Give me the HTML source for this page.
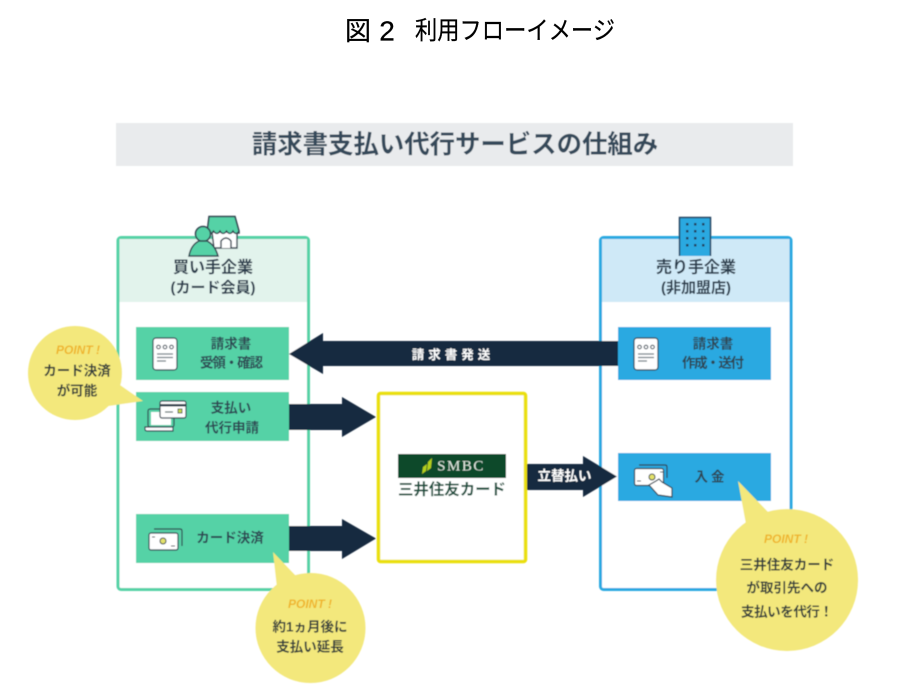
<!DOCTYPE html>
<html lang="ja"><head><meta charset="utf-8"><title>図2 利用フローイメージ</title>
<style>
html,body{margin:0;padding:0;background:#fff;width:909px;height:691px;overflow:hidden}
svg{display:block}
text{font-family:"Liberation Sans","Noto Sans CJK JP",sans-serif;text-anchor:middle;dominant-baseline:central;fill:#2b3d4d}
.b{font-weight:700}
.m{font-size:13.5px;font-weight:700;fill:#2f4652}
.p{font-size:12px;font-weight:700;font-style:italic;fill:#efb52c}
.y{font-size:13.5px;font-weight:700;fill:#333d3d}
.w{fill:#fff;stroke:#33434f;stroke-width:1.2}
</style></head><body>
<svg width="909" height="691" viewBox="0 0 909 691" xmlns="http://www.w3.org/2000/svg">
<defs><filter id="s" x="-2%" y="-2%" width="104%" height="104%"><feGaussianBlur stdDeviation="0.55"/></filter></defs>
<text x="358" y="31" font-size="26" style="fill:#000;stroke:#000;stroke-width:.25">図</text>
<text x="387" y="31" font-size="28" style="fill:#000;stroke:#000;stroke-width:.25">2</text>
<text x="515" y="31" font-size="25" textLength="200" lengthAdjust="spacingAndGlyphs" style="fill:#000;stroke:#000;stroke-width:.25">利用フローイメージ</text>
<g filter="url(#s)">
<rect x="116" y="123" width="677" height="43" fill="#e9ebed"/>
<text x="455" y="145" font-size="25.4" class="b" style="fill:#34495a">請求書支払い代行サービスの仕組み</text>

<!-- left panel -->
<rect x="118" y="237.500" width="190.500" height="352" rx="3" fill="#fff" stroke="#55d2a6" stroke-width="3"/>
<rect x="119.500" y="239" width="187.500" height="63" fill="#e2f3ec"/>
<!-- right panel -->
<rect x="600.500" y="237.500" width="190.500" height="352" rx="3" fill="#fff" stroke="#29a9e1" stroke-width="3"/>
<rect x="602" y="239" width="187.500" height="63" fill="#cfe9f7"/>

<text x="213" y="268" font-size="16" class="b">買い手企業</text>
<text x="213" y="288" font-size="15" class="b">(カード会員)</text>
<text x="696" y="268" font-size="16" class="b">売り手企業</text>
<text x="696" y="288" font-size="15" class="b">(非加盟店)</text>

<!-- store + person icon -->
<path d="M209 216.500H235L239 231V233H207Z" fill="#55d2a6" stroke="#33434f" stroke-width="1.500"/>
<path d="M212 232H237V248H214Z" fill="#fff" stroke="#33434f" stroke-width="1.400"/>
<path d="M221 248V241Q226 235 231 241V248" fill="#fff" stroke="#33434f" stroke-width="1.400"/>
<path d="M207 231Q210 236 213.500 231Q217 236 220 231Q223 236 226.500 231Q230 236 233 231Q236 236 239 231" fill="#55d2a6" stroke="#33434f" stroke-width="1.300"/>
<circle cx="203" cy="234" r="7.500" fill="#55d2a6" stroke="#33434f" stroke-width="1.500"/>
<path d="M189 256Q191 245 199 241H207Q215 245 218 256Z" fill="#55d2a6" stroke="#33434f" stroke-width="1.500"/>

<!-- building icon -->
<path d="M679.500 256V217.500H710.500V256" fill="#29a9e1" stroke="#26435e" stroke-width="1.500"/>
<g fill="#26435e">
<rect x="686" y="223" width="2.500" height="2.500"/><rect x="694" y="223" width="2.500" height="2.500"/><rect x="702" y="223" width="2.500" height="2.500"/>
<rect x="686" y="230" width="2.500" height="2.500"/><rect x="694" y="230" width="2.500" height="2.500"/><rect x="702" y="230" width="2.500" height="2.500"/>
<rect x="686" y="237" width="2.500" height="2.500"/><rect x="694" y="237" width="2.500" height="2.500"/><rect x="702" y="237" width="2.500" height="2.500"/>
<rect x="686" y="244" width="2.500" height="2.500"/><rect x="694" y="244" width="2.500" height="2.500"/><rect x="702" y="244" width="2.500" height="2.500"/>
</g>

<!-- boxes -->
<g fill="#55d2a6">
<rect x="136" y="327" width="153" height="53"/>
<rect x="136" y="392" width="153" height="49"/>
<rect x="136" y="514" width="153" height="49"/>
</g>
<g fill="#29a9e1">
<rect x="618" y="327" width="153" height="53"/>
<rect x="618" y="453" width="153" height="48"/>
</g>
<rect x="378.500" y="393.500" width="147" height="168" rx="2" fill="#fff" stroke="#eadf0a" stroke-width="3.500"/>

<!-- arrows -->
<g fill="#17293f">
<path d="M618 341V366H323V374L289 354L323 333V341Z"/>
<path d="M289 404H342V397L376 417L342 437V430H289Z"/>
<path d="M289 526H342V519L376 538.500L342 559V551H289Z"/>
<path d="M527 464H583V456L617 476.500L583 497V490H527Z"/>
</g>
<text x="453" y="355" font-size="12.500" class="b" style="fill:#fff;letter-spacing:4px">請求書発送</text>
<text x="564.500" y="476" font-size="13.500" class="b" style="fill:#fff">立替払い</text>

<!-- SMBC logo -->
<rect x="398" y="454" width="108" height="24" fill="#0b4a2c"/>
<path d="M422 474L423 467L427 464L426 471ZM427 471L428 462L432 458L431 468Z" fill="#b4cf1e"/>
<text x="461" y="466.500" font-size="15" style="font-family:'Liberation Serif',serif;fill:#dfe7df;letter-spacing:1.500px">SMBC</text>
<text x="452" y="490" font-size="15.500" class="b" textLength="108" lengthAdjust="spacingAndGlyphs" style="fill:#1f5140">三井住友カード</text>

<!-- doc icons -->
<g>
<rect x="153" y="338" width="24" height="32" rx="3" class="w"/>
<circle cx="158.500" cy="347" r="1.800" fill="none" stroke="#33434f"/><circle cx="165" cy="347" r="1.800" fill="none" stroke="#33434f"/><circle cx="171.500" cy="347" r="1.800" fill="none" stroke="#33434f"/>
<path d="M157 354H173M157 357.500H173M157 361H166" stroke="#6d7a82" stroke-width="1.200"/>
</g>
<g transform="translate(481 0)">
<rect x="153" y="338" width="24" height="32" rx="3" class="w"/>
<circle cx="158.500" cy="347" r="1.800" fill="none" stroke="#33434f"/><circle cx="165" cy="347" r="1.800" fill="none" stroke="#33434f"/><circle cx="171.500" cy="347" r="1.800" fill="none" stroke="#33434f"/>
<path d="M157 354H173M157 357.500H173M157 361H166" stroke="#6d7a82" stroke-width="1.200"/>
</g>

<!-- laptop + card icon -->
<rect x="148" y="409" width="26" height="18" rx="2" fill="#55d2a6" stroke="#33434f" stroke-width="1.200"/>
<rect x="151" y="412" width="20" height="13" fill="#fff"/>
<path d="M145 427H173V431H147Q145 431 145 429Z" class="w"/>
<rect x="160" y="401" width="26" height="17" rx="2" class="w"/>
<rect x="160" y="404" width="26" height="2.500" fill="#33434f"/>
<path d="M165 412H173" stroke="#566" stroke-width="1.200"/>
<rect x="178" y="409" width="4" height="4" fill="#c5d84a" stroke="#33434f" stroke-width=".8"/>

<!-- cash icon -->
<path d="M154 529H180Q182 529 182 531V546" fill="none" stroke="#33434f" stroke-width="1.200"/>
<rect x="149" y="533" width="29" height="17" rx="2" class="w"/>
<circle cx="163" cy="541" r="3" fill="#e4e26a" stroke="#33434f"/>
<path d="M152 537H155M171 546H175" stroke="#33434f" stroke-width="1"/>

<!-- cash + hand icon -->
<path d="M639 465H665Q667 465 667 467V478" fill="none" stroke="#33434f" stroke-width="1.200"/>
<rect x="634.500" y="468.500" width="29" height="17" rx="2" class="w"/>
<circle cx="652" cy="477" r="3" fill="#e4e26a" stroke="#33434f"/>
<path d="M637 481H641M660 472H664" stroke="#33434f" stroke-width="1"/>
<path d="M649 485L656 481L659 479L662 482L672 488L672 497L658 495Z" class="w"/>

<!-- box labels -->
<text x="231" y="344" class="m">請求書</text>
<text x="231.500" y="363" class="m" textLength="63">受領・確認</text>
<text x="231" y="408" class="m">支払い</text>
<text x="232" y="428" class="m">代行申請</text>
<text x="230" y="538" class="m">カード決済</text>
<text x="713" y="344" class="m">請求書</text>
<text x="713" y="363" class="m" textLength="62">作成・送付</text>
<text x="711" y="477" class="m" style="letter-spacing:3px">入金</text>

<!-- bubbles -->
<g fill="#f3e87c">
<circle cx="75" cy="373" r="47"/>
<path d="M143 401L120 385L108 406Z"/>
<circle cx="310.500" cy="628" r="55"/>
<path d="M273 552L296 576L277 588Z"/>
<circle cx="787" cy="580" r="71"/>
<path d="M738 481L768 512L746 524Z"/>
</g>
<text x="78" y="350" class="p">POINT !</text>
<text x="77" y="371" class="y">カード決済</text>
<text x="77" y="391" class="y">が可能</text>
<text x="310" y="604" class="p">POINT !</text>
<text x="310" y="627" class="y">約1ヵ月後に</text>
<text x="310" y="647" class="y">支払い延長</text>
<text x="786" y="539" class="p">POINT !</text>
<text x="787" y="565" class="y">三井住友カード</text>
<text x="787" y="588" class="y">が取引先への</text>
<text x="787" y="612" class="y" textLength="92">支払いを代行！</text>
</g>
</svg>
</body></html>
